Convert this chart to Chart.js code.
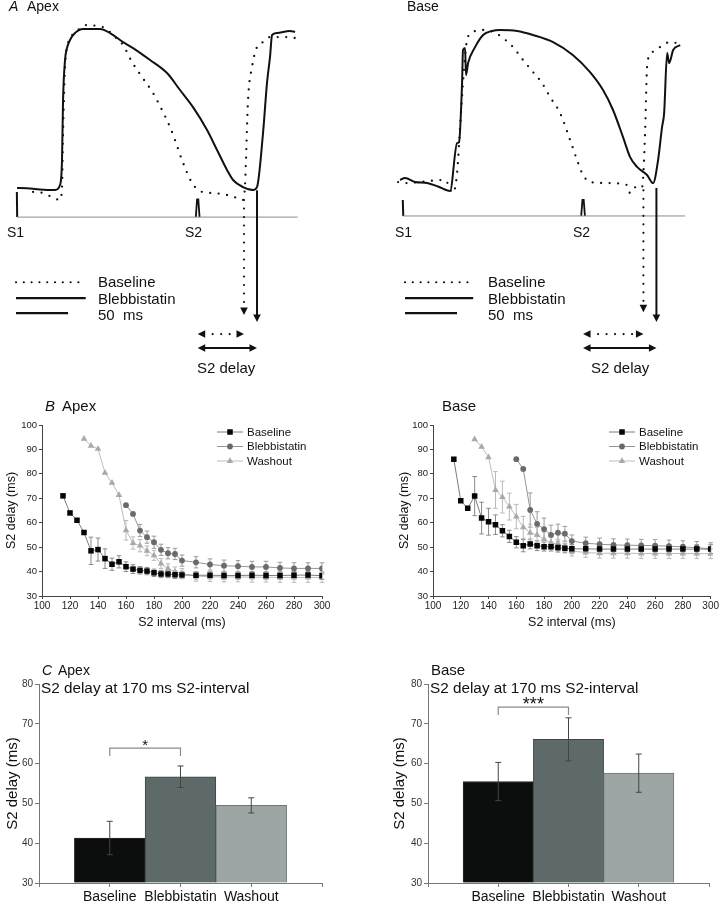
<!DOCTYPE html>
<html><head><meta charset="utf-8">
<script src="https://cdn.jsdelivr.net/npm/chart.js@4.4.0/dist/chart.umd.min.js"></script>
<style>
html,body{margin:0;padding:0;background:#fff;}
#fig{position:relative;width:720px;height:908px;overflow:hidden;background:#fff;font-family:'Liberation Sans',Arial,sans-serif;color:#111;}
.box{position:absolute;}
.t{position:absolute;white-space:nowrap;line-height:1;}
canvas{display:block;}
</style></head><body>
<div id="fig">
  <div class="box" style="left:0;top:0;"><canvas id="aApex" width="360" height="400"></canvas></div>
  <div class="box" style="left:386px;top:0;"><canvas id="aBase" width="334" height="400"></canvas></div>
  <div class="box" style="left:0;top:405px;"><canvas id="bApex" width="335" height="230"></canvas></div>
  <div class="box" style="left:390px;top:405px;"><canvas id="bBase" width="330" height="230"></canvas></div>
  <div class="box" style="left:0;top:670px;"><canvas id="cApex" width="335" height="238"></canvas></div>
  <div class="box" style="left:385px;top:670px;"><canvas id="cBase" width="335" height="238"></canvas></div>

  <div class="t" style="left:9px;top:-1px;font-size:14px;font-style:italic;">A</div>
  <div class="t" style="left:27px;top:-1px;font-size:14px;">Apex</div>
  <div class="t" style="left:407px;top:-1px;font-size:14px;">Base</div>
  <div class="t" style="left:7px;top:225px;font-size:14px;">S1</div>
  <div class="t" style="left:185px;top:225px;font-size:14px;">S2</div>
  <div class="t" style="left:395px;top:225px;font-size:14px;">S1</div>
  <div class="t" style="left:573px;top:225px;font-size:14px;">S2</div>
  <div class="t" style="left:98px;top:274px;font-size:15px;">Baseline</div>
  <div class="t" style="left:98px;top:291px;font-size:15px;">Blebbistatin</div>
  <div class="t" style="left:98px;top:307px;font-size:15px;">50&nbsp; ms</div>
  <div class="t" style="left:488px;top:274px;font-size:15px;">Baseline</div>
  <div class="t" style="left:488px;top:291px;font-size:15px;">Blebbistatin</div>
  <div class="t" style="left:488px;top:307px;font-size:15px;">50&nbsp; ms</div>
  <div class="t" style="left:197px;top:360px;font-size:15px;">S2 delay</div>
  <div class="t" style="left:591px;top:360px;font-size:15px;">S2 delay</div>

  <div class="t" style="left:45px;top:398px;font-size:15px;font-style:italic;">B</div>
  <div class="t" style="left:62px;top:398px;font-size:15px;">Apex</div>
  <div class="t" style="left:442px;top:398px;font-size:15px;">Base</div>

  <div class="t" style="left:42px;top:663px;font-size:14px;font-style:italic;">C</div>
  <div class="t" style="left:58px;top:663px;font-size:14px;">Apex</div>
  <div class="t" style="left:41px;top:680px;font-size:15.3px;">S2 delay at 170 ms S2-interval</div>
  <div class="t" style="left:431px;top:662px;font-size:15px;">Base</div>
  <div class="t" style="left:430px;top:680px;font-size:15.3px;">S2 delay at 170 ms S2-interval</div>
</div>
<script>
// ---------------- DATA ----------------
// Panel A optical traces: [time from S1 (ms), amplitude (% of AP height)]
const apexBaselineTrace = [[15.8,-1],[25.4,-1.7],[34,-4.2],[41.7,-6],[43.6,2],[44.6,35.5],[46.5,76.4],[49.4,91.3],[53.2,96.2],[59,99.4],[67.7,102.5],[77.3,101.9],[85,100.6],[94.6,95],[102.3,90],[110.9,79.5],[120.5,70.2],[131.1,60.3],[139.7,49.8],[147.4,39.2],[152.2,31.2],[158.9,18.8],[168.6,4.5],[178.2,-1],[188.7,-1.7],[202.2,-2.9],[211.8,-4.8],[217.6,-6],[219.5,3.3],[222.4,56],[226.2,76.4],[231,88.8],[236.8,91.9],[243.5,95],[259.9,95],[267.6,94.4]];
const apexBlebTrace = [[0.4,1.4],[3.3,1.4],[32.1,0.2],[36.9,0.2],[41.7,3.3],[43.6,18.8],[44.6,56],[46.5,80.8],[48.4,88.2],[51.3,93.2],[56.1,97.5],[63.8,100],[80.2,100],[89.8,97.5],[102.3,91.9],[111.9,88.2],[128.2,80.8],[144.5,72.7],[157,62.2],[169.5,51.6],[183,37.4],[192.6,25],[202.2,12.6],[208,6.4],[217.6,2],[227.2,0.2],[231,2],[236.8,35.5],[240.6,66.5],[243.5,82.6],[245.5,96.3],[250.2,97.5],[262.7,98.8],[267.6,98.2]];
const baseBaselineTrace = [[-4.4,5.1],[2.3,4.5],[40.7,6.4],[48.4,-1.7],[52.3,10.7],[55.2,39.2],[58,66.5],[61.9,93.2],[67.7,98.2],[77.3,99.4],[86.9,98.2],[96.5,94.4],[106.1,88.8],[115.7,80.8],[125.3,73.3],[134,66.5],[141.7,57.8],[151.3,47.9],[160.9,31.2],[167.6,18.8],[172.4,10.7],[180.1,5.1],[196.4,4.5],[215.6,3.3],[218.5,-1.7],[225.3,2.7],[230.1,2],[233,35.5],[234.9,76.4],[237.8,83.8],[247.4,88.8],[257,91.9],[263.7,91.3]];
const baseBlebTrace = [[-2.5,6.4],[2.3,7.6],[12,5.2],[23.5,4.5],[34,2.4],[45.6,-0.4],[52.3,29.3],[54.2,29.9],[57.1,66.5],[58,87],[60,88.2],[60.9,71.4],[62.9,78.9],[69.6,88.8],[77.3,96.3],[85.9,98.8],[93.6,99.4],[110,98.8],[125.3,96.3],[144.6,91.9],[163.8,83.8],[180.1,73.3],[192.6,62.2],[202.2,49.8],[211.8,33],[218.6,20.6],[225.3,14.5],[234.9,9.5],[240.7,4.5],[245.5,18.8],[249.3,39.2],[251.3,47.9],[254.2,85.1],[256.1,78.9],[260,87],[266.7,90]];
const apexStimLine = [[0.5,-16.6],[270,-16.6]];
const apexS1Pulse = [[0.2,-1],[0.5,-16.6]];
const apexS2Pulse = [[172.2,-16.6],[173.4,-5.6],[174.6,-5.6],[175.8,-16.6]];
const baseStimLine = [[0.5,-15.9],[271.5,-15.9]];
const baseS1Pulse = [[0.1,-6],[0.6,-15.9]];
const baseS2Pulse = [[171.6,-15.9],[172.8,-6],[174,-6],[175.2,-15.9]];
const apexS2Time = 174;
const apexActivationTimes = [218.5, 231];   // baseline, blebbistatin
const baseS2Time = 173.4;
const baseActivationTimes = [231.4, 243.9]; // baseline, blebbistatin
const scaleBarMs = 50;

// Panel B: S2 delay vs S2 interval
const s2Intervals = [115,120,125,130,135,140,145,150,155,160,165,170,175,180,185,190,195,200,210,220,230,240,250,260,270,280,290,300];
const seriesNames = ['Baseline','Blebbistatin','Washout'];
const apexBaselineDelay = [71,64,61,56,48.5,49,45.3,43,44,42,41,40.5,40.2,39.5,39,39,38.7,38.6,38.5,38.5,38.4,38.4,38.5,38.4,38.4,38.5,38.6,38.3];
const apexBaselineErr   = [0,0,0,0,5.6,4.7,4,2.5,2.5,2,1.8,1.5,1.5,1.5,1.5,1.5,1.5,1.5,1.5,1.5,1.5,1.5,1.5,1.5,1.5,1.5,1.5,1.5];
const apexBlebDelay = [null,null,null,null,null,null,null,null,null,67.2,63.6,56.8,54.1,52,48.9,47.5,47.2,44.5,43.8,42.9,42.4,42.2,41.9,41.9,41.5,41.3,41.3,41.3];
const apexBlebErr   = [0,0,0,0,0,0,0,0,0,0,0,2.5,2.5,2.5,2.3,2.3,2.3,2.3,2.3,2.3,2.3,2.3,2.3,2.3,2.3,2.3,2.3,2.3];
const apexWashDelay = [null,null,null,94.3,91.5,90.2,80.4,76.3,71.3,56.9,51.7,50.6,48.5,46.6,43.3,41.2,39.9,39.2,38.1,37.9,37.8,37.8,37.7,37.7,37.6,37.6,37.6,37.6];
const apexWashErr   = [0,0,0,0,0,0,0,0,0,4,2.5,2.5,2,2,2,2,2,2,2,2,2,2,2,2,2,2,2,2];
const baseBaselineDelay = [86,69,65.9,70.9,61.9,60.4,59.2,56.7,54.4,52,50.6,51.3,50.6,50.2,50.2,49.8,49.5,49.3,49.3,49.2,49.2,49.2,49.2,49.2,49.2,49.2,49.2,49.2];
const baseBaselineErr   = [0,0,0,8,6.5,5.5,4,2.5,2.5,2.3,2.5,2,2,1.8,1.8,1.8,1.8,1.8,1.8,1.8,1.8,1.8,1.8,1.8,1.8,1.8,1.8,1.8];
const baseBlebDelay = [null,null,null,null,null,null,null,null,null,86,82,65.2,59.5,57.4,55,55.9,55.5,52.5,51.6,51.2,50.9,50.8,50.7,50.6,50.4,50.1,49.8,49.3];
const baseBlebErr   = [0,0,0,0,0,0,0,0,0,0,0,7,5,4.5,4,3.5,3,2.5,2.5,2.5,2.5,2.5,2.5,2.5,2.5,2.5,2.5,2.5];
const baseWashDelay = [null,null,null,94.1,91.1,86.8,73.4,70.5,66.6,62.5,58.1,55.9,55,53.2,51.8,51.2,50.2,48.4,47.8,47.5,47.5,47.5,47.4,47.4,47.4,47.4,47.4,47.3];
const baseWashErr   = [0,0,0,0,0,0,7.5,6.5,5.5,5,4.5,3.5,3,3,2.5,2,2,2,2,2,2,2,2,2,2,2,2,2];

// Panel C: S2 delay at 170 ms S2 interval
const barCategories = ['Baseline','Blebbistatin','Washout'];
const apexBarMeans = [41.3, 56.7, 49.5];
const apexBarErr   = [4.2, 2.7, 1.9];
const baseBarMeans = [55.5, 66.1, 57.6];
const baseBarErr   = [4.8, 5.4, 4.8];

// ---------------- SETUP ----------------
Chart.defaults.font.family = "'Liberation Sans', Arial, sans-serif";
Chart.defaults.color = '#111';
const FONT = "'Liberation Sans', Arial, sans-serif";
const toXY = arr => arr.map(p => ({x: p[0], y: p[1]}));

function dotted(ctx, x0, y0, x1, y1, gap) {
  ctx.save(); ctx.setLineDash([0, gap || 8.5]); ctx.lineCap = 'round'; ctx.lineWidth = 2.2;
  ctx.beginPath(); ctx.moveTo(x0, y0); ctx.lineTo(x1, y1); ctx.stroke(); ctx.restore();
}
function solid(ctx, x0, y0, x1, y1, w) {
  ctx.save(); ctx.setLineDash([]); ctx.lineWidth = w || 2;
  ctx.beginPath(); ctx.moveTo(x0, y0); ctx.lineTo(x1, y1); ctx.stroke(); ctx.restore();
}
function head(ctx, x, y, dir) {
  const L = 7.5, W = 3.8;
  ctx.beginPath(); ctx.moveTo(x, y);
  if (dir === 'down') { ctx.lineTo(x - W, y - L); ctx.lineTo(x + W, y - L); }
  else if (dir === 'left') { ctx.lineTo(x + L, y - W); ctx.lineTo(x + L, y + W); }
  else { ctx.lineTo(x - L, y - W); ctx.lineTo(x - L, y + W); }
  ctx.closePath(); ctx.fill();
}

const traceAnnotPlugin = {
  id: 'traceAnnot',
  afterDatasetsDraw(chart, args, o) {
    const ctx = chart.ctx, X = chart.scales.x, Y = chart.scales.y;
    const px = t => X.getPixelForValue(t), py = a => Y.getPixelForValue(a);
    ctx.save(); ctx.strokeStyle = '#111'; ctx.fillStyle = '#111';
    const lx0 = px(o.legendT0), lx1 = px(o.legendT0 + o.legendLen);
    dotted(ctx, lx0, py(o.legendRows[0]), lx1, py(o.legendRows[0]), 7.8);
    solid(ctx, lx0, py(o.legendRows[1]), lx1, py(o.legendRows[1]), 2.2);
    solid(ctx, lx0, py(o.legendRows[2]), px(o.legendT0 + o.scaleBar), py(o.legendRows[2]), 2.2);
    o.actTimes.forEach((t, k) => {
      const x = px(t), y0 = py(o.vTops[k]), tip = py(o.tips[k]);
      if (k === 0) dotted(ctx, x, y0, x, tip - 9, 8.5); else solid(ctx, x, y0, x, tip - 6, 2);
      head(ctx, x, tip, 'down');
    });
    o.actTimes.forEach((t, k) => {
      const x0 = px(o.s2Time), x1 = px(t), y = py(o.hRows[k]);
      if (k === 0) dotted(ctx, x0 + 15, y, x1 - 10, y, 8.5); else solid(ctx, x0 + 5, y, x1 - 5, y, 2);
      head(ctx, x0, y, 'left'); head(ctx, x1, y, 'right');
    });
    ctx.restore();
  }
};

function traceChart(id, tr, annot) {
  const line = (data, color, w, extra) => Object.assign({data: toXY(data), borderColor: color, borderWidth: w, pointRadius: 0, fill: false}, extra || {});
  return new Chart(document.getElementById(id), {
    type: 'line',
    data: { datasets: [
      line(tr.stim, '#8c8c8c', 1),
      line(tr.s1, '#111', 2),
      line(tr.s2, '#111', 1.8),
      line(tr.baseline, '#111', 2.3, {borderDash: [0, 8.5], borderCapStyle: 'round', cubicInterpolationMode: 'monotone'}),
      line(tr.bleb, '#111', 2, {cubicInterpolationMode: 'monotone', borderJoinStyle: 'round'})
    ]},
    options: {
      responsive: false, animation: false, events: [],
      layout: {padding: 0},
      plugins: {legend: {display: false}, tooltip: {enabled: false}, traceAnnot: annot},
      scales: {
        x: {type: 'linear', display: false, min: -16, max: annot.tMax},
        y: {type: 'linear', display: false, min: -130, max: 118}
      }
    },
    plugins: [traceAnnotPlugin]
  });
}

traceChart('aApex', {baseline: apexBaselineTrace, bleb: apexBlebTrace, stim: apexStimLine, s1: apexS1Pulse, s2: apexS2Pulse},
  {tMax: 330, s2Time: apexS2Time, actTimes: apexActivationTimes, vTops: [-6, 0], tips: [-77.3, -81.7], hRows: [-89.1, -97.8],
   legendT0: -0.6, legendLen: 67, legendRows: [-57, -66.8, -76.1], scaleBar: scaleBarMs});
traceChart('aBase', {baseline: baseBaselineTrace, bleb: baseBlebTrace, stim: baseStimLine, s1: baseS1Pulse, s2: baseS2Pulse},
  {tMax: 305, s2Time: baseS2Time, actTimes: baseActivationTimes, vTops: [0, 1.5], tips: [-75.6, -81.7], hRows: [-89.1, -97.8],
   legendT0: 2.3, legendLen: 65.5, legendRows: [-57, -66.8, -76.1], scaleBar: scaleBarMs});

// error bars (shared by B and C)
const errorBarPlugin = {
  id: 'errorBars',
  beforeDatasetsDraw(chart, args, o) { if (o.when === 'before') drawErr(chart, o); },
  afterDatasetsDraw(chart, args, o) { if (o.when === 'after') drawErr(chart, o); }
};
function drawErr(chart, o) {
  const ctx = chart.ctx, Y = chart.scales.y;
  chart.data.datasets.forEach((ds, di) => {
    if (!ds.errors) return;
    const meta = chart.getDatasetMeta(di);
    ctx.save(); ctx.strokeStyle = ds.errorColor || '#888'; ctx.lineWidth = o.width || 1;
    meta.data.forEach((el, i) => {
      const raw = ds.data[i];
      const v = (raw !== null && typeof raw === 'object') ? raw.y : raw;
      const e = ds.errors[i];
      if (v === null || v === undefined || !e) return;
      const x = el.x, top = Y.getPixelForValue(v + e), bot = Y.getPixelForValue(v - e);
      ctx.beginPath();
      ctx.moveTo(x, top); ctx.lineTo(x, bot);
      ctx.moveTo(x - o.cap, top); ctx.lineTo(x + o.cap, top);
      ctx.moveTo(x - o.cap, bot); ctx.lineTo(x + o.cap, bot);
      ctx.stroke();
    });
    ctx.restore();
  });
}

function marker(ctx, style, x, y, r) {
  ctx.beginPath();
  if (style === 'rect') { const s = r * Math.SQRT1_2; ctx.rect(x - s, y - s, 2 * s, 2 * s); }
  else if (style === 'triangle') {
    ctx.moveTo(x, y - r); ctx.lineTo(x + r * 0.866, y + r * 0.5); ctx.lineTo(x - r * 0.866, y + r * 0.5); ctx.closePath();
  } else { ctx.arc(x, y, r, 0, Math.PI * 2); }
  ctx.fill();
}
const seriesLegendPlugin = {
  id: 'seriesLegend',
  afterDraw(chart, args, o) {
    const ctx = chart.ctx, a = chart.chartArea;
    chart.data.datasets.forEach((ds, i) => {
      const cx = a.left + o.x, cy = a.top + o.y + i * o.rowGap;
      ctx.save();
      ctx.strokeStyle = ds.borderColor; ctx.lineWidth = 1;
      ctx.beginPath(); ctx.moveTo(cx - o.half, cy); ctx.lineTo(cx + o.half, cy); ctx.stroke();
      ctx.fillStyle = ds.pointBackgroundColor; marker(ctx, ds.pointStyle, cx, cy, ds.pointRadius);
      ctx.fillStyle = '#111'; ctx.font = o.font + 'px ' + FONT; ctx.textBaseline = 'middle'; ctx.textAlign = 'left';
      ctx.fillText(ds.label, cx + o.textDx, cy + 0.5);
      ctx.restore();
    });
  }
};

const seriesStyles = [
  {pointStyle: 'rect', radius: 3.9, pointColor: '#050505', lineColor: '#7c7c7c', errorColor: '#8a8a8a'},
  {pointStyle: 'circle', radius: 2.9, pointColor: '#6a6a6a', lineColor: '#959595', errorColor: '#9c9c9c'},
  {pointStyle: 'triangle', radius: 3.8, pointColor: '#a9a9a9', lineColor: '#bdbdbd', errorColor: '#bababa'}
];

function curveChart(id, values, errors, L) {
  return new Chart(document.getElementById(id), {
    type: 'line',
    data: { datasets: values.map((vals, k) => ({
      label: seriesNames[k],
      data: s2Intervals.map((x, i) => ({x: x, y: vals[i]})),
      errors: errors[k], errorColor: seriesStyles[k].errorColor,
      borderColor: seriesStyles[k].lineColor, borderWidth: 1,
      pointStyle: seriesStyles[k].pointStyle, pointRadius: seriesStyles[k].radius,
      pointBackgroundColor: seriesStyles[k].pointColor, pointBorderWidth: 0,
      tension: 0, spanGaps: false, fill: false
    }))},
    options: {
      responsive: false, animation: false, events: [],
      layout: {padding: {top: 20, right: L.padRight, left: 0, bottom: 0}},
      plugins: {
        legend: {display: false}, tooltip: {enabled: false},
        errorBars: {when: 'before', cap: 2.3, width: 1},
        seriesLegend: {x: L.legendX, y: 7, rowGap: 14.5, half: 13, textDx: 17, font: 11.5}
      },
      scales: {
        x: {type: 'linear', min: 100, max: 300,
            ticks: {stepSize: 20, font: {size: 10}, color: '#222', padding: 1, maxRotation: 0},
            grid: {drawOnChartArea: false, tickLength: 3, color: '#444'}, border: {color: '#444'},
            title: {display: true, text: 'S2 interval (ms)', font: {size: 12.5}, color: '#111', padding: {top: 0, bottom: 4.5}},
            afterFit: s => { s.height = 39; }},
        y: {type: 'linear', min: 30, max: 100,
            ticks: {stepSize: 10, font: {size: 9.5}, color: '#222', padding: 2},
            grid: {drawOnChartArea: false, tickLength: 3, color: '#444'}, border: {color: '#444'},
            title: {display: true, text: 'S2 delay (ms)', font: {size: 12.5}, color: '#111', padding: {top: L.yTitlePad, bottom: 0}},
            afterFit: s => { s.width = L.yWidth; }}
      }
    },
    plugins: [errorBarPlugin, seriesLegendPlugin]
  });
}

curveChart('bApex', [apexBaselineDelay, apexBlebDelay, apexWashDelay], [apexBaselineErr, apexBlebErr, apexWashErr],
  {padRight: 13, legendX: 188, yWidth: 42, yTitlePad: 4.5});
curveChart('bBase', [baseBaselineDelay, baseBlebDelay, baseWashDelay], [baseBaselineErr, baseBlebErr, baseWashErr],
  {padRight: 7, legendX: 189, yWidth: 43, yTitlePad: 7.5});

// significance bracket
const sigPlugin = {
  id: 'sig',
  afterDatasetsDraw(chart, args, o) {
    const ctx = chart.ctx, X = chart.scales.x, Y = chart.scales.y;
    const x0 = X.getPixelForValue(o.from), x1 = X.getPixelForValue(o.to);
    const y = Y.getPixelForValue(o.level), yd = Y.getPixelForValue(o.level - o.drop);
    ctx.save(); ctx.strokeStyle = '#8a8a8a'; ctx.lineWidth = 1.2;
    ctx.beginPath(); ctx.moveTo(x0, yd); ctx.lineTo(x0, y); ctx.lineTo(x1, y); ctx.lineTo(x1, yd); ctx.stroke();
    ctx.fillStyle = '#111'; ctx.font = o.size + 'px ' + FONT; ctx.textAlign = 'center'; ctx.textBaseline = 'alphabetic';
    ctx.fillText(o.label, (x0 + x1) / 2, y + o.dy);
    ctx.restore();
  }
};

function barChart(id, means, errs, L) {
  return new Chart(document.getElementById(id), {
    type: 'bar',
    data: {
      labels: [''].concat(barCategories, ['']),
      datasets: [{
        data: [null].concat(means, [null]),
        errors: [0].concat(errs, [0]), errorColor: '#444',
        backgroundColor: ['#fff', '#0b0e0d', '#5e6a69', '#9da6a4', '#fff'],
        borderColor: ['#fff', '#2a2a2a', '#3d4645', '#6f7776', '#fff'],
        borderWidth: 1, base: 30, categoryPercentage: 1, barPercentage: 1
      }]
    },
    options: {
      responsive: false, animation: false, events: [],
      layout: {padding: {top: 14, right: L.padRight, left: 0, bottom: 0}},
      plugins: {legend: {display: false}, tooltip: {enabled: false},
        errorBars: {when: 'after', cap: 3, width: 1}, sig: L.sig},
      scales: {
        x: {type: 'category', offset: false,
            grid: {offset: false, drawOnChartArea: false, tickLength: 4, color: '#777'}, border: {color: '#777'},
            ticks: {font: {size: 14}, color: '#111', padding: 2, maxRotation: 0, autoSkip: false},
            afterFit: s => { s.height = 25; }},
        y: {type: 'linear', min: 30, max: 80,
            ticks: {stepSize: 10, font: {size: 10}, color: '#333', padding: 2},
            grid: {drawOnChartArea: false, tickLength: 4, color: '#777'}, border: {color: '#777'},
            title: {display: true, text: 'S2 delay (ms)', font: {size: 15}, color: '#111', padding: {top: L.yTitlePad, bottom: 0}},
            afterFit: s => { s.width = L.yWidth; }}
      }
    },
    plugins: [errorBarPlugin, sigPlugin]
  });
}

barChart('cApex', apexBarMeans, apexBarErr,
  {padRight: 13, yWidth: 39, yTitlePad: 4, sig: {from: 1, to: 2, level: 63.9, drop: 2, label: '*', size: 15, dy: 1.5}});
barChart('cBase', baseBarMeans, baseBarErr,
  {padRight: 11, yWidth: 43, yTitlePad: 6, sig: {from: 1, to: 2, level: 74.2, drop: 2, label: '***', size: 18, dy: 3}});
</script>
</body></html>
